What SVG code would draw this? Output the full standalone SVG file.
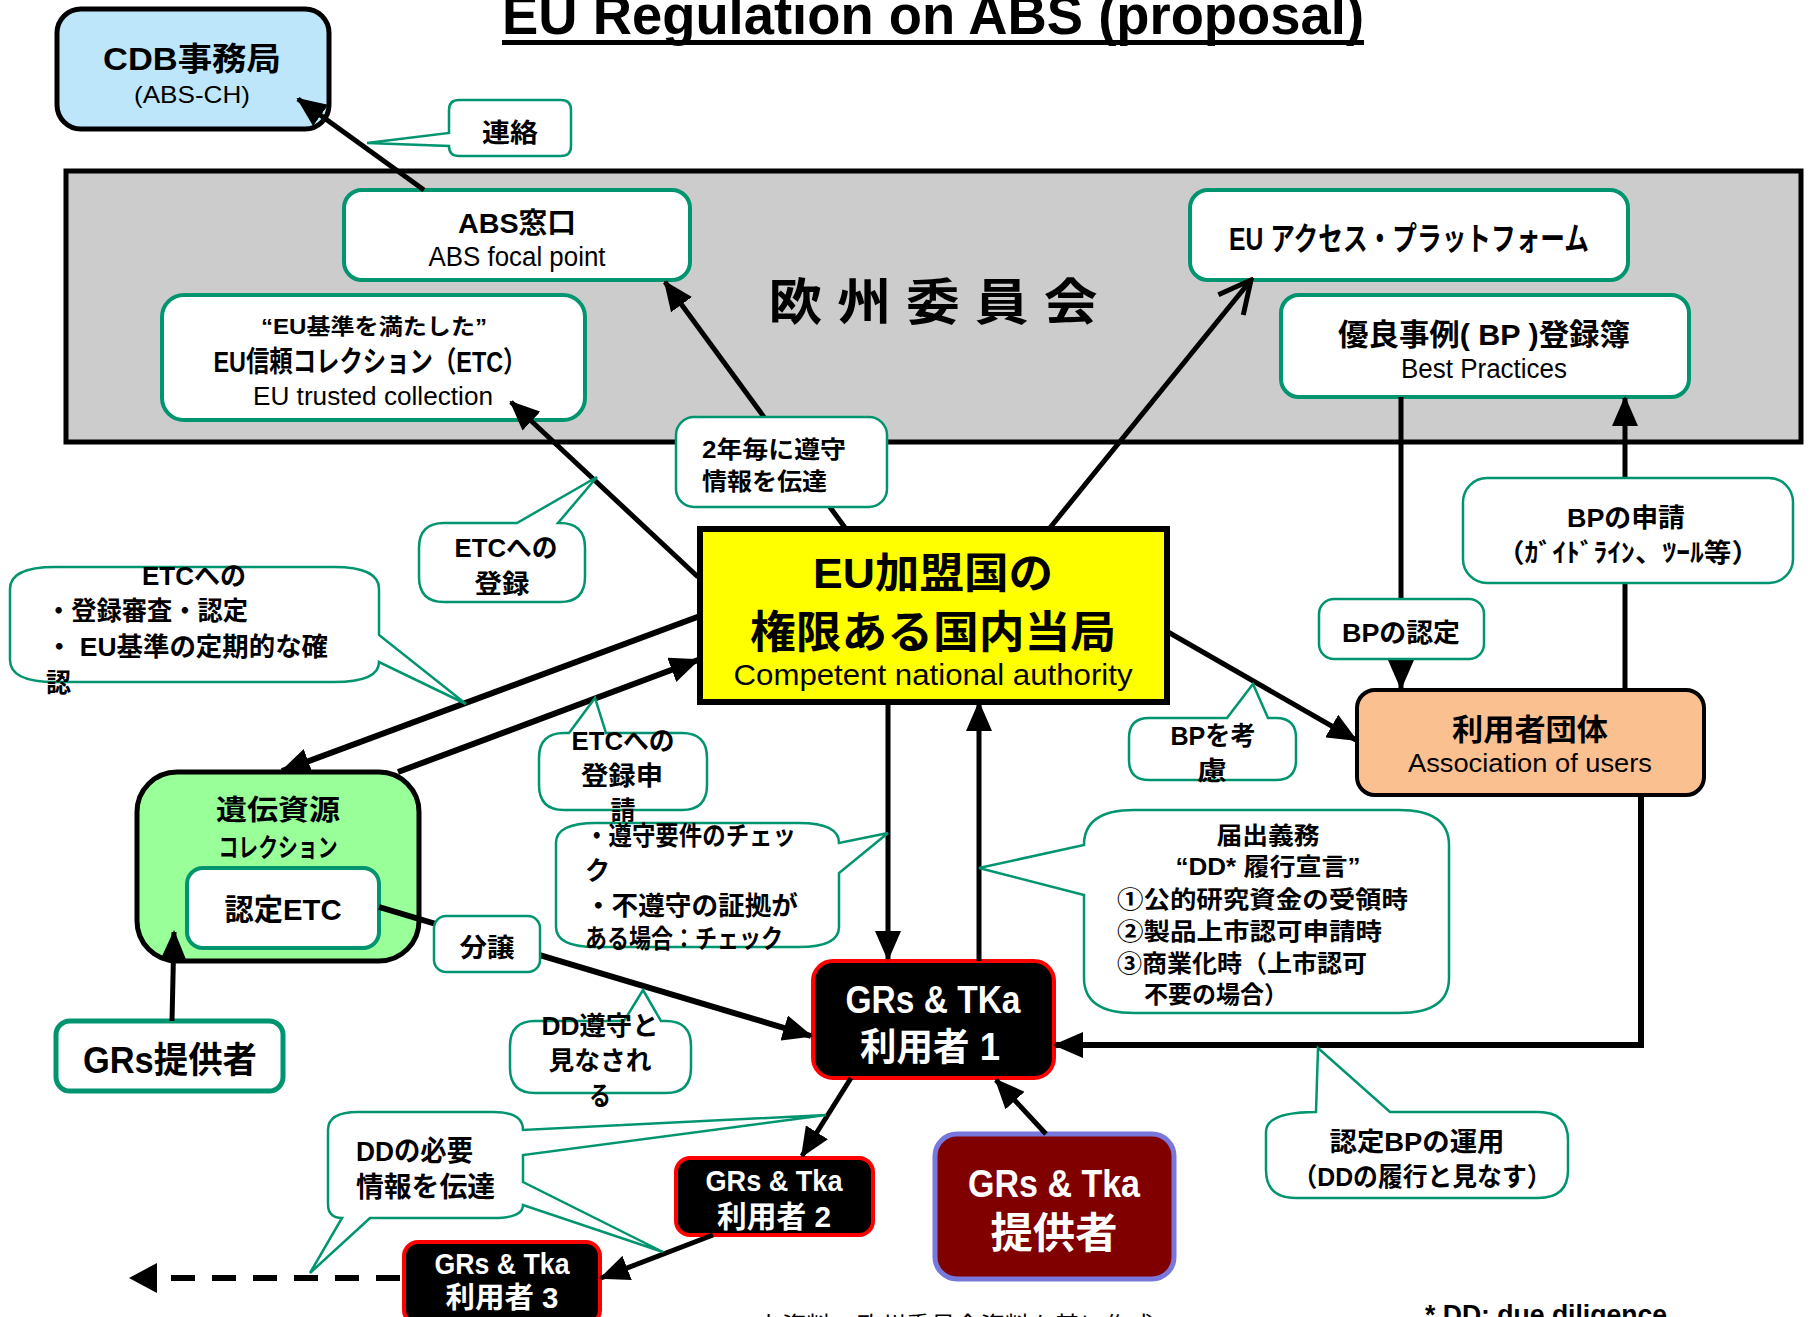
<svg xmlns="http://www.w3.org/2000/svg" width="1810" height="1317" viewBox="0 0 1810 1317">
<style>
text{font-family:'Liberation Sans','Noto Sans CJK JP',sans-serif;font-weight:700;fill:#000}
.m{text-anchor:middle}
.n{font-weight:400}
.w{fill:#fff}
.gb{fill:#fff;stroke:#00956f;stroke-width:4}
.co{fill:#fff;stroke:#00956f;stroke-width:2.5}
.ln{fill:none;stroke:#000;stroke-width:5}
.th{stroke-width:6}
.ub{fill:#000;stroke:#ff0000;stroke-width:4}
</style>
<defs>
<marker id="ah" viewBox="0 0 30 26" refX="28" refY="13" markerWidth="30" markerHeight="26" markerUnits="userSpaceOnUse" orient="auto"><path d="M0,0 L30,13 L0,26 Z" fill="#000"/></marker>
<marker id="ao" viewBox="-3 -3 38 38" refX="32" refY="16" markerWidth="38" markerHeight="38" markerUnits="userSpaceOnUse" orient="auto"><path d="M0,0 L32,16 L0,32" fill="none" stroke="#000" stroke-width="5"/></marker>
<marker id="ad" viewBox="0 0 28 30" refX="0" refY="15" markerWidth="28" markerHeight="30" markerUnits="userSpaceOnUse" orient="auto"><path d="M0,0 L28,15 L0,30 Z" fill="#000"/></marker>
</defs>
<rect width="1810" height="1317" fill="#fff"/>

<g id="title">
<text x="933" y="34" class="m" font-size="56" textLength="862" lengthAdjust="spacingAndGlyphs">EU Regulation on ABS (proposal)</text>
<rect x="502" y="40" width="862" height="5" fill="#000"/>
</g>

<g id="commission">
<rect x="66" y="171" width="1735" height="271" fill="#cccccc" stroke="#000" stroke-width="5"/>
<text x="933" y="320" class="m" font-size="50" textLength="329" lengthAdjust="spacingAndGlyphs">欧 州 委 員 会</text>
</g>

<g id="cdb">
<rect x="57" y="9" width="272" height="120" rx="24" fill="#bee6fa" stroke="#000" stroke-width="5"/>
<text x="192" y="70" class="m" font-size="32" textLength="178" lengthAdjust="spacingAndGlyphs">CDB事務局</text>
<text x="192" y="103" class="m n" font-size="24" textLength="116" lengthAdjust="spacingAndGlyphs">(ABS-CH)</text>
</g>

<g id="abs-focal-point">
<rect x="344" y="190" width="346" height="90" rx="18" class="gb"/>
<text x="517" y="233" class="m" font-size="28" textLength="118" lengthAdjust="spacingAndGlyphs">ABS窓口</text>
<text x="517" y="266" class="m n" font-size="27" textLength="177" lengthAdjust="spacingAndGlyphs">ABS focal point</text>
</g>

<g id="etc">
<rect x="162" y="295" width="423" height="125" rx="22" class="gb"/>
<text x="374" y="334" class="m" font-size="22" textLength="226" lengthAdjust="spacingAndGlyphs">“EU基準を満たした”</text>
<text x="370" y="372" class="m" font-size="29" textLength="313" lengthAdjust="spacingAndGlyphs">EU信頼コレクション（ETC）</text>
<text x="373" y="405" class="m n" font-size="25" textLength="240" lengthAdjust="spacingAndGlyphs">EU trusted collection</text>
</g>

<g id="access-platform">
<rect x="1190" y="190" width="438" height="90" rx="18" class="gb"/>
<text x="1409" y="250" class="m" font-size="32" textLength="360" lengthAdjust="spacingAndGlyphs">EU アクセス・プラットフォーム</text>
</g>

<g id="bp-register">
<rect x="1281" y="295" width="408" height="102" rx="18" class="gb"/>
<text x="1484" y="345" class="m" font-size="30" textLength="292" lengthAdjust="spacingAndGlyphs">優良事例( BP )登録簿</text>
<text x="1484" y="378" class="m n" font-size="27" textLength="166" lengthAdjust="spacingAndGlyphs">Best Practices</text>
</g>

<g id="cna">
<rect x="700" y="529" width="467" height="173" fill="#ffff00" stroke="#000" stroke-width="6"/>
<text x="933" y="588" class="m" font-size="42" textLength="240" lengthAdjust="spacingAndGlyphs">EU加盟国の</text>
<text x="933" y="648" class="m" font-size="44" textLength="366" lengthAdjust="spacingAndGlyphs">権限ある国内当局</text>
<text x="933" y="685" class="m n" font-size="30" textLength="399" lengthAdjust="spacingAndGlyphs">Competent national authority</text>
</g>

<g id="user-association">
<rect x="1357" y="690" width="347" height="105" rx="18" fill="#fac08f" stroke="#000" stroke-width="4"/>
<text x="1530" y="740" class="m" font-size="30" textLength="156" lengthAdjust="spacingAndGlyphs">利用者団体</text>
<text x="1530" y="772" class="m n" font-size="26" textLength="244" lengthAdjust="spacingAndGlyphs">Association  of users</text>
</g>

<g id="gr-collection">
<rect x="137" y="772" width="282" height="189" rx="40" fill="#99ff99" stroke="#000" stroke-width="5"/>
<text x="278" y="820" class="m" font-size="28" textLength="124" lengthAdjust="spacingAndGlyphs">遺伝資源</text>
<text x="278" y="857" class="m" font-size="26" textLength="119" lengthAdjust="spacingAndGlyphs">コレクション</text>
</g>

<g id="certified-etc">
<rect x="187" y="868" width="192" height="80" rx="16" class="gb"/>
<text x="283" y="920" class="m" font-size="30" textLength="117" lengthAdjust="spacingAndGlyphs">認定ETC</text>
</g>

<g id="gr-provider">
<rect x="56" y="1021" width="227" height="70" rx="14" fill="#fff" stroke="#00956f" stroke-width="5"/>
<text x="170" y="1073" class="m" font-size="36" textLength="174" lengthAdjust="spacingAndGlyphs">GRs提供者</text>
</g>

<g id="user1">
<rect x="813" y="961" width="241" height="117" rx="20" class="ub"/>
<text x="933" y="1013" class="m w" font-size="38" textLength="175" lengthAdjust="spacingAndGlyphs">GRs &amp; TKa</text>
<text x="930" y="1060" class="m w" font-size="38" textLength="140" lengthAdjust="spacingAndGlyphs">利用者 1</text>
</g>

<g id="tka-provider">
<rect x="935" y="1134" width="239" height="145" rx="22" fill="#800000" stroke="#7878dc" stroke-width="5"/>
<text x="1054" y="1197" class="m w" font-size="38" textLength="172" lengthAdjust="spacingAndGlyphs">GRs &amp; Tka</text>
<text x="1054" y="1248" class="m w" font-size="42" textLength="127" lengthAdjust="spacingAndGlyphs">提供者</text>
</g>

<g id="user2">
<rect x="676" y="1158" width="197" height="77" rx="14" class="ub"/>
<text x="774" y="1191" class="m w" font-size="30" textLength="137" lengthAdjust="spacingAndGlyphs">GRs &amp; Tka</text>
<text x="774" y="1227" class="m w" font-size="30" textLength="114" lengthAdjust="spacingAndGlyphs">利用者 2</text>
</g>

<g id="user3">
<rect x="404" y="1242" width="196" height="82" rx="14" class="ub"/>
<text x="502" y="1274" class="m w" font-size="29" textLength="135" lengthAdjust="spacingAndGlyphs">GRs &amp; Tka</text>
<text x="502" y="1308" class="m w" font-size="29" textLength="113" lengthAdjust="spacingAndGlyphs">利用者 3</text>
</g>

<g id="connectors">
<path class="ln" d="M424,190 L298,99" marker-end="url(#ah)"/>
<path class="ln" d="M846,529 L665,282" marker-end="url(#ah)"/>
<path class="ln" d="M1049,529 L1251,280" marker-end="url(#ao)"/>
<path class="ln" d="M698,577 L511,402" marker-end="url(#ah)"/>
<path class="ln th" d="M700,616 L282,771" marker-end="url(#ah)"/>
<path class="ln th" d="M398,772 L698,660" marker-end="url(#ah)"/>
<path class="ln" d="M888,702 L888,959" marker-end="url(#ah)"/>
<path class="ln" d="M979,961 L979,703" marker-end="url(#ah)"/>
<path class="ln" d="M1168,632 L1356,740" marker-end="url(#ah)"/>
<path class="ln" d="M1401,397 L1401,688" marker-end="url(#ah)"/>
<path class="ln" d="M1625,690 L1625,398" marker-end="url(#ah)"/>
<path class="ln th" d="M1641,795 L1641,1045 L1055,1045" marker-end="url(#ah)"/>
<path class="ln th" d="M379,907 L811,1036" marker-end="url(#ah)"/>
<path class="ln" d="M172,1021 L174,932" marker-end="url(#ah)"/>
<path class="ln" d="M1046,1134 L996,1080" marker-end="url(#ah)"/>
<path class="ln" d="M851,1078 L802,1156" marker-end="url(#ah)"/>
<path class="ln" d="M713,1235 L601,1278" marker-end="url(#ah)"/>
<path class="ln th" d="M400,1278 L157,1278" stroke-dasharray="24 17" marker-end="url(#ad)"/>
</g>

<g id="callout-renraku">
<path class="co" d="M459,100 H561 Q571,100 571,110 V146 Q571,156 561,156 H459 Q449,156 449,146 L367,143 L449,133 V110 Q449,100 459,100 Z"/>
<text x="510" y="142" class="m" font-size="26" textLength="56" lengthAdjust="spacingAndGlyphs">連絡</text>
</g>

<g id="callout-report">
<rect x="676" y="417" width="211" height="90" rx="18" class="co"/>
<text x="702" y="458" font-size="24" textLength="144" lengthAdjust="spacingAndGlyphs">2年毎に遵守</text>
<text x="702" y="490" font-size="24" textLength="125" lengthAdjust="spacingAndGlyphs">情報を伝達</text>
</g>

<g id="callout-etc-register">
<path class="co" d="M444,523 H517 L597,477 L558,523 H560 Q585,523 585,548 V577 Q585,602 560,602 H444 Q419,602 419,577 V548 Q419,523 444,523 Z"/>
<text x="506" y="557" class="m" font-size="26" textLength="103" lengthAdjust="spacingAndGlyphs">ETCへの</text>
<text x="502" y="593" class="m" font-size="26" textLength="55" lengthAdjust="spacingAndGlyphs">登録</text>
</g>

<g id="callout-etc-review">
<path class="co" d="M55,567 H334 Q379,567 379,589 V635 L466,704 L379,662 Q379,682 334,682 H55 Q10,682 10,660 V589 Q10,567 55,567 Z"/>
<text x="194" y="585" class="m" font-size="26" textLength="104" lengthAdjust="spacingAndGlyphs">ETCへの</text>
<text x="46" y="620" font-size="26" textLength="202" lengthAdjust="spacingAndGlyphs">・登録審査・認定</text>
<text x="46" y="656" font-size="26" textLength="282" lengthAdjust="spacingAndGlyphs">・ EU基準の定期的な確</text>
<text x="46" y="692" font-size="26" textLength="25" lengthAdjust="spacingAndGlyphs">認</text>
</g>

<g id="callout-etc-apply">
<path class="co" d="M564,733 H569 L595,698 L606,733 H682 Q707,733 707,758 V785 Q707,810 682,810 H564 Q539,810 539,785 V758 Q539,733 564,733 Z"/>
<text x="623" y="750" class="m" font-size="26" textLength="103" lengthAdjust="spacingAndGlyphs">ETCへの</text>
<text x="622" y="785" class="m" font-size="26" textLength="82" lengthAdjust="spacingAndGlyphs">登録申</text>
<text x="623" y="820" class="m" font-size="26" textLength="25" lengthAdjust="spacingAndGlyphs">請</text>
</g>

<g id="callout-compliance-check">
<path class="co" d="M596,823 H799 Q839,823 839,843 L888,833 L839,873 V927 Q839,947 799,947 H596 Q556,947 556,927 V843 Q556,823 596,823 Z"/>
<text x="585" y="845" font-size="26" textLength="211" lengthAdjust="spacingAndGlyphs">・遵守要件のチェッ</text>
<text x="585" y="880" font-size="26" textLength="25" lengthAdjust="spacingAndGlyphs">ク</text>
<text x="585" y="915" font-size="26" textLength="213" lengthAdjust="spacingAndGlyphs">・不遵守の証拠が</text>
<text x="585" y="948" font-size="26" textLength="198" lengthAdjust="spacingAndGlyphs">ある場合：チェック</text>
</g>

<g id="callout-notification">
<path class="co" d="M1134,810 H1399 Q1449,810 1449,845 V978 Q1449,1013 1399,1013 H1134 Q1084,1013 1084,978 V895 L979,868 L1084,845 Q1084,810 1134,810 Z"/>
<text x="1268" y="844" class="m" font-size="24" textLength="103" lengthAdjust="spacingAndGlyphs">届出義務</text>
<text x="1268" y="875" class="m" font-size="24" textLength="185" lengthAdjust="spacingAndGlyphs">“DD* 履行宣言”</text>
<text x="1117" y="908" font-size="24" textLength="291" lengthAdjust="spacingAndGlyphs">①公的研究資金の受領時</text>
<text x="1117" y="940" font-size="24" textLength="265" lengthAdjust="spacingAndGlyphs">②製品上市認可申請時</text>
<text x="1117" y="972" font-size="24" textLength="250" lengthAdjust="spacingAndGlyphs">③商業化時（上市認可</text>
<text x="1144" y="1003" font-size="24" textLength="144" lengthAdjust="spacingAndGlyphs">不要の場合）</text>
</g>

<g id="callout-bp-apply">
<rect x="1463" y="478" width="330" height="105" rx="24" class="co"/>
<text x="1626" y="527" class="m" font-size="26" textLength="118" lengthAdjust="spacingAndGlyphs">BPの申請</text>
<text x="1628" y="562" class="m" font-size="26" textLength="262" lengthAdjust="spacingAndGlyphs">（ｶﾞｲﾄﾞﾗｲﾝ、ﾂｰﾙ等）</text>
</g>

<g id="callout-bp-certify">
<rect x="1319" y="599" width="165" height="60" rx="15" class="co"/>
<text x="1401" y="642" class="m" font-size="26" textLength="118" lengthAdjust="spacingAndGlyphs">BPの認定</text>
</g>

<g id="callout-bp-consider">
<path class="co" d="M1149,718 H1227 L1253,684 L1268,718 H1276 Q1296,718 1296,738 V760 Q1296,780 1276,780 H1149 Q1129,780 1129,760 V738 Q1129,718 1149,718 Z"/>
<text x="1213" y="745" class="m" font-size="26" textLength="85" lengthAdjust="spacingAndGlyphs">BPを考</text>
<text x="1212" y="780" class="m" font-size="26" textLength="30" lengthAdjust="spacingAndGlyphs">慮</text>
</g>

<g id="callout-transfer">
<rect x="434" y="916" width="106" height="56" rx="12" class="co"/>
<text x="487" y="957" class="m" font-size="26" textLength="55" lengthAdjust="spacingAndGlyphs">分譲</text>
</g>

<g id="callout-dd-deemed">
<path class="co" d="M535,1021 H624 L643,990 L661,1021 H666 Q691,1021 691,1046 V1068 Q691,1093 666,1093 H535 Q510,1093 510,1068 V1046 Q510,1021 535,1021 Z"/>
<text x="600" y="1035" class="m" font-size="26" textLength="117" lengthAdjust="spacingAndGlyphs">DD遵守と</text>
<text x="600" y="1070" class="m" font-size="26" textLength="103" lengthAdjust="spacingAndGlyphs">見なされ</text>
<text x="600" y="1105" class="m" font-size="26" textLength="22" lengthAdjust="spacingAndGlyphs">る</text>
</g>

<g id="callout-dd-info">
<path class="co" d="M358,1112 H493 Q523,1112 523,1130 L826,1115 L523,1155 V1182 L663,1252 L523,1205 Q523,1218 493,1218 H370 L310,1273 L342,1218 Q328,1218 328,1204 V1130 Q328,1112 358,1112 Z"/>
<text x="356" y="1161" font-size="28" textLength="117" lengthAdjust="spacingAndGlyphs">DDの必要</text>
<text x="356" y="1197" font-size="28" textLength="139" lengthAdjust="spacingAndGlyphs">情報を伝達</text>
</g>

<g id="callout-bp-use">
<path class="co" d="M1316,1112 L1318,1048 L1390,1112 H1538 Q1568,1112 1568,1140 V1170 Q1568,1198 1538,1198 H1296 Q1266,1198 1266,1170 V1132 Q1266,1112 1316,1112 Z"/>
<text x="1417" y="1151" class="m" font-size="26" textLength="175" lengthAdjust="spacingAndGlyphs">認定BPの運用</text>
<text x="1422" y="1186" class="m" font-size="26" textLength="259" lengthAdjust="spacingAndGlyphs">（DDの履行と見なす）</text>
</g>

<g id="footnotes">
<text x="1425" y="1324" font-size="28" textLength="242" lengthAdjust="spacingAndGlyphs">* DD: due diligence</text>
<text x="757" y="1334" class="n" font-size="24" fill="#333" textLength="397" lengthAdjust="spacingAndGlyphs">上資料：欧州委員会資料を基に作成</text>
</g>
</svg>
